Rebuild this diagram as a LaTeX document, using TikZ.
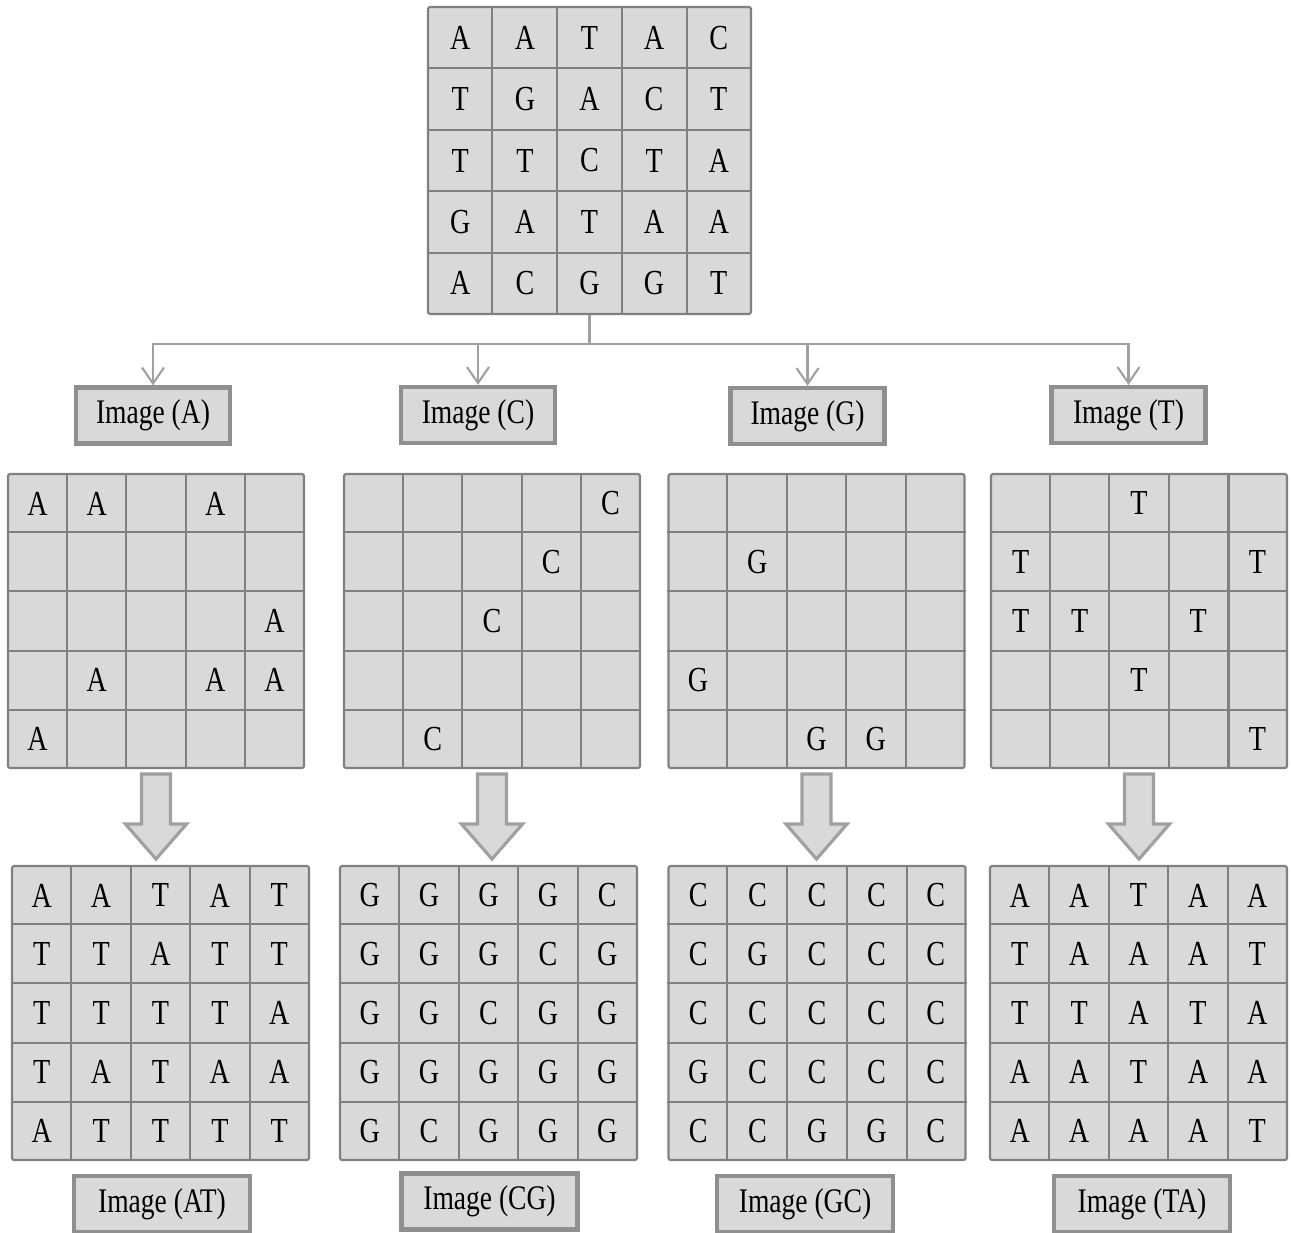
\documentclass[tikz,border=0pt]{standalone}
\usepackage{fontspec}
\setmainfont{Liberation Serif}[FakeStretch=0.8]
\usetikzlibrary{arrows.meta, calc, positioning}
\definecolor{cellgray}{RGB}{217,217,217}
\definecolor{linegray}{RGB}{128,128,128}
\definecolor{framegray}{RGB}{143,143,143}
\definecolor{wiregray}{RGB}{160,160,160}
\tikzset{
  gridbox/.style={draw=linegray, fill=cellgray, line width=0.6pt, rounded corners=0.6pt, inner sep=0pt},
  gridline/.style={draw=linegray, line width=0.6pt},
  letter/.style={font=\fontsize{10}{12}\selectfont, inner sep=0pt},
  imgbox/.style={draw=framegray, fill=cellgray, line width=1.2pt, inner sep=0pt, font=\fontsize{9.8}{12}\selectfont},
  wire/.style={draw=wiregray, line width=0.6pt},
  bigarrow/.style={draw=wiregray, fill=cellgray, line width=0.9pt, line join=miter},
}
% grid: name, centre x, centre y, width, height, rows of letters
\newcommand{\dnagrid}[6]{%
  \node[gridbox, minimum width=#4cm, minimum height=#5cm] (#1) at (#2,#3) {};
  \foreach \k in {1,...,4} {
    \draw[gridline] ($(#1.north west)!{\k/5}!(#1.north east)$) -- ($(#1.south west)!{\k/5}!(#1.south east)$);
    \draw[gridline] ($(#1.north west)!{\k/5}!(#1.south west)$) -- ($(#1.north east)!{\k/5}!(#1.south east)$);
  }
  \foreach \row [count=\r] in {#6} {
    \foreach \ch [count=\c] in \row {
      \node[letter] (#1-\r-\c) at ({#2-#4/2+(\c-0.5)*#4/5},{#3+#5/2-(\r-0.5)*#5/5}) {\ch};
    }
  }
}

\begin{document}
\begin{tikzpicture}
  \useasboundingbox (0,0) rectangle (12.91,-12.32);

  % --- Source sequence ---
  \dnagrid{top}{5.895}{-1.605}{3.23}{3.07}{{A,A,T,A,C},{T,G,A,C,T},{T,T,C,T,A},{G,A,T,A,A},{A,C,G,G,T}}

  % --- Base images ---
  \node[imgbox, minimum width=1.54cm, minimum height=0.56cm] (imgA) at (1.53,-4.155) {Image (A)};
  \node[imgbox, minimum width=1.54cm, minimum height=0.56cm] (imgC) at (4.78,-4.15) {Image (C)};
  \node[imgbox, minimum width=1.54cm, minimum height=0.56cm] (imgG) at (8.075,-4.16) {Image (G)};
  \node[imgbox, minimum width=1.54cm, minimum height=0.56cm] (imgT) at (11.285,-4.15) {Image (T)};

  % Split connector
  \draw[wire] (top.south) -- ++(0,-0.29) coordinate (split);
  \foreach \g in {A,C,G,T}
    \draw[wire, -{Straight Barb[length=1.6mm, width=2.2mm]}] (split) -| (img\g.north);

  \dnagrid{midA}{1.56}{-6.21}{2.96}{2.94}{{A,A,{},A,{}},{{},{},{},{},{}},{{},{},{},{},A},{{},A,{},A,A},{A,{},{},{},{}}}
  \dnagrid{midC}{4.92}{-6.21}{2.96}{2.94}{{{},{},{},{},C},{{},{},{},C,{}},{{},{},C,{},{}},{{},{},{},{},{}},{{},C,{},{},{}}}
  \dnagrid{midG}{8.165}{-6.21}{2.96}{2.94}{{{},{},{},{},{}},{{},G,{},{},{}},{{},{},{},{},{}},{G,{},{},{},{}},{{},{},G,G,{}}}
  \dnagrid{midT}{11.39}{-6.21}{2.96}{2.94}{{{},{},T,{},{}},{T,{},{},{},T},{T,T,{},T,{}},{{},{},T,{},{}},{{},{},{},{},T}}

  % Block arrows
  \foreach \g in {A,C,G,T}
    \draw[bigarrow] ($(mid\g.south)+(-0.145,-0.05)$) -- ++(0.29,0) -- ++(0,-0.5) -- ++(0.16,0)
      -- ++(-0.305,-0.35) -- ++(-0.305,0.35) -- ++(0.16,0) -- cycle;

  % --- Pair images ---
  \dnagrid{resAT}{1.605}{-10.13}{2.97}{2.94}{{A,A,T,A,T},{T,T,A,T,T},{T,T,T,T,A},{T,A,T,A,A},{A,T,T,T,T}}
  \dnagrid{resCG}{4.885}{-10.13}{2.97}{2.94}{{G,G,G,G,C},{G,G,G,C,G},{G,G,C,G,G},{G,G,G,G,G},{G,C,G,G,G}}
  \dnagrid{resGC}{8.17}{-10.13}{2.97}{2.94}{{C,C,C,C,C},{C,G,C,C,C},{C,C,C,C,C},{G,C,C,C,C},{C,C,G,G,C}}
  \dnagrid{resTA}{11.385}{-10.13}{2.97}{2.94}{{A,A,T,A,A},{T,A,A,A,T},{T,T,A,T,A},{A,A,T,A,A},{A,A,A,A,T}}

  \node[imgbox, minimum width=1.76cm, minimum height=0.56cm] (lblAT) at (1.62,-12.04) {Image (AT)};
  \node[imgbox, minimum width=1.76cm, minimum height=0.56cm] (lblCG) at (4.895,-12.015) {Image (CG)};
  \node[imgbox, minimum width=1.76cm, minimum height=0.56cm] (lblGC) at (8.05,-12.04) {Image (GC)};
  \node[imgbox, minimum width=1.76cm, minimum height=0.56cm] (lblTA) at (11.42,-12.04) {Image (TA)};
\end{tikzpicture}
\end{document}
